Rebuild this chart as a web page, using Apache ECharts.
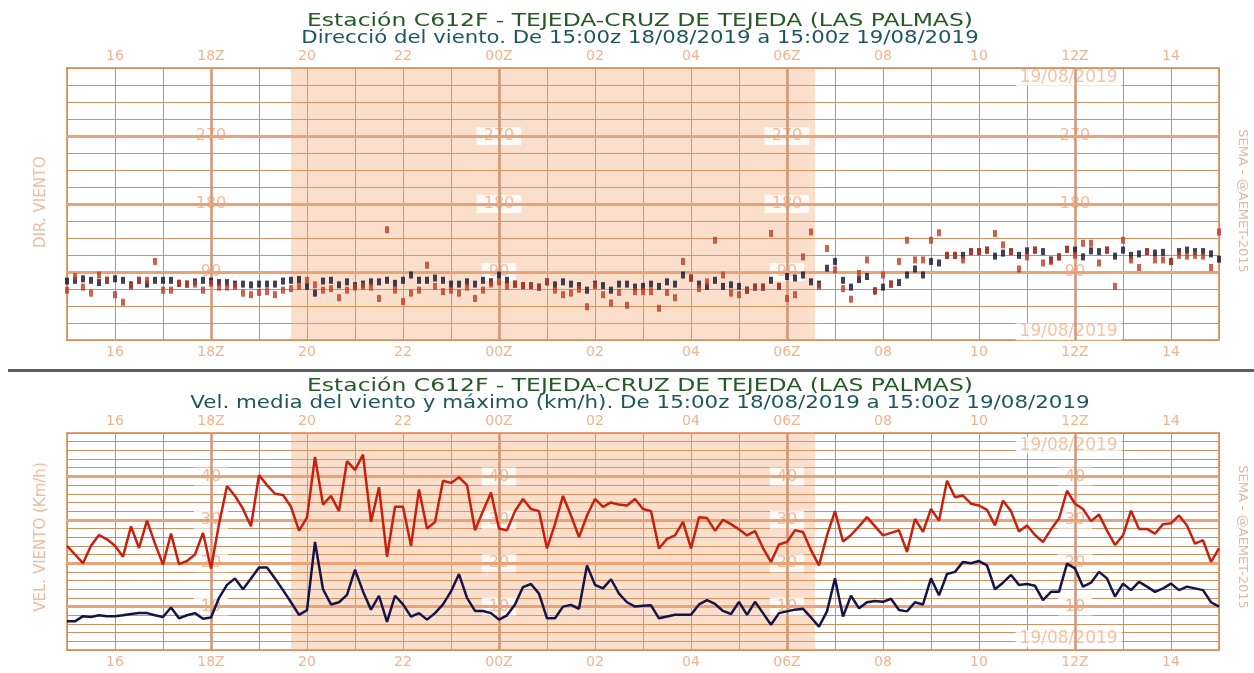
<!DOCTYPE html>
<html>
<head>
<meta charset="utf-8">
<script src="https://cdn.jsdelivr.net/npm/echarts@6/dist/echarts.min.js"></script>
<style>html,body{margin:0;padding:0;background:#fff}#c{width:1254px;height:673px}</style>
</head>
<body>
<div id="c"></div>
<script>
// ---- DATA ----
// tick labels for x axis, one per hour from 15:00z 18/08 to 15:00z 19/08
const tickLabels = ['', '16', '', '18Z', '', '20', '', '22', '', '00Z', '', '02', '', '04', '', '06Z', '', '08', '', '10', '', '12Z', '', '14', ''];
const stepMinutes = 10;
const nightStart = 280;   // 19:40z (minutes after 15:00z)
const nightEnd = 935;     // 06:35z
const labelCols = [180, 540, 900, 1260]; // 18Z, 00Z, 06Z, 12Z
const dirTicks = [90, 180, 270];
const speedTicks = [10, 20, 30, 40];
const dateText = '19/08/2019';

// wind direction (deg), 10-min: mean (black) and gust (red)
const dirMean = [78,79,81,79,76,79,81,79,73,79, 74,79,79,79,75,74,77,79,78,76, 76,74,74,73,74,74,74,78,79,80,
 71,62,78,79,73,77,72,74,77,77, 79,75,79,86,79,79,82,79,74,74, 77,74,79,77,86,79,74,72,72,70,
 77,73,77,74,72,66,74,72,66,74, 74,70,71,74,71,77,74,86,82,74, 71,79,71,73,71,66,70,70,79,71,
 84,82,86,77,74,95,104,79,70,80, 84,65,70,74,76,86,94,86,104,102, 112,112,112,117,117,119,111,115,117,112,
 118,119,117,106,110,120,119,110,118,117, 119,111,119,112,114,117,115,116,104,117, 119,117,117,114,107];
const dirGust = [66,84,70,62,86,79,60,50,71,79, 79,104,66,66,75,74,74,66,75,70, 70,71,62,60,63,64,60,66,68,71,
 79,73,66,68,56,66,70,71,70,55, 146,66,51,62,66,99,71,64,66,62, 70,55,66,74,77,71,74,72,72,70,
 77,66,60,62,67,44,72,60,49,63, 46,64,64,64,42,63,56,104,82,68, 77,132,86,62,60,66,70,70,141,71,
 55,60,110,143,71,121,93,68,54,88, 106,65,86,74,104,132,106,106,132,142, 112,112,106,117,117,119,141,126,117,94,
 110,119,102,104,110,120,112,128,128,102, 119,71,132,106,96,117,106,106,104,112, 111,112,111,96,143];

// wind speed (km/h), 10-min: mean (navy) and maximum (red)
const speedMean = [6.6,6.6,7.8,7.6,8,7.8,7.8,8,8.3,8.5, 8.5,8,7.6,9.8,7.3,8,8.5,7.2,7.5,12,
 15,16.5,14,16.5,19,19,16.5,13.8,11,8.1, 9.2,24.9,14,10.5,11,12.7,18.5,13.5,9.3,12.5,
 6.5,12.5,10.5,7.7,8.5,7,8.5,10.5,13.5,17.5, 12,9,9,8.5,7,8,10.5,14.5,15.2,13,
 7.3,7.3,10,10.4,9.5,19.5,15,14.2,16.3,13, 11,10,10.2,10.3,7.3,7.7,8.1,8.1,8.1,10.5,
 11.5,10.6,9,8.3,11.1,8.1,11.1,8.5,5.8,8.5, 8.9,9.3,9.5,7.5,5.4,8.9,16.5,7.7,12.5,9.6,
 11,11.3,11.1,11.8,9.2,8.9,11,10.5,16.5,12.6, 17.5,18,20.3,20,20.5,19.5,14,15.5,17.3,15,
 15.2,14.8,11.5,13.4,13.4,19.9,18.8,14.6,15.5,18, 16.5,12.3,15.3,13.8,15.7,14.6,13.4,14.2,15.3,13.8,
 14.6,14.2,13.8,11,10];
const speedMax = [24,22,20,24,26.5,25.5,24,21.5,28.5,23.5, 29.8,24.5,19.7,26.8,19.8,20.5,22,27,18.8,29,
 37.8,35.5,32.5,28.5,40.3,38,36,35.7,33,27.5, 30.5,44.5,33.5,35.5,32,43.5,41.5,45,29.5,37.5,
 21.5,33,33,24,37,28,29.5,39,38.5,39.8, 38,27.6,32,36.3,28,27.6,32,34.8,32.5,32,
 23.4,29,35.5,31,26,31,34.8,33,34,33.5, 33.3,34.8,32.5,32,23.4,25.6,26.4,29.5,23.4,30.6,
 30.4,27.5,30,29,27.8,26.4,27.4,23.5,20.3,24.3, 24.9,27.6,27.2,23,19.5,26.4,32,25,26.5,28.5,
 30.6,28.5,26.4,27,27.6,22.6,30.2,27.2,32.5,29.8, 39,35.2,35.6,33.7,33.3,32.3,28.7,34.4,32,27.3,
 28.7,26.5,24.9,27.8,30.3,36.7,33.7,32.5,29.7,31.2, 27.5,24.2,26.4,32.1,27.9,27.9,26.8,29,29.2,31,
 28.7,24.5,25.3,20.3,23.4];

// ---- CHART ----
const FONT = 'DejaVu Sans';
const LBL = '#ecaa84';
const TICK = '#f0b48f';
const THIN = '#cf9062';
const pair = arr => arr.map((v, i) => [i * stepMinutes, v]);

function xAxes(gridIndex) {
  const base = {
    type: 'value', gridIndex, min: 0, max: 1440, interval: 60,
    axisLine: { show: false }, axisTick: { show: false },
    axisLabel: { margin: 5, color: TICK, fontFamily: FONT, fontSize: 14, fontWeight: 'normal',
      formatter: v => tickLabels[Math.round(v / 60)] || '' }
  };
  return [
    Object.assign({}, base, { position: 'bottom', splitLine: { show: true, lineStyle: { color: THIN, width: 1 } } }),
    Object.assign({}, base, { position: 'top', splitLine: { show: false } })
  ];
}
function yAxis(gridIndex, max, interval) {
  return { type: 'value', gridIndex, min: 0, max, interval,
    axisLine: { show: false }, axisTick: { show: false }, axisLabel: { show: false },
    splitLine: { show: true, lineStyle: { color: THIN, width: 1 } } };
}
function decoSeries(xi, yi, ticks) {
  const ml = labelCols.map(x => ({ xAxis: x, lineStyle: { type: 'solid', color: '#d39570', width: 2.5 } }))
    .concat(ticks.map(y => ({ yAxis: y, lineStyle: { type: 'solid', color: '#eba274', width: 3 } })));
  return [
    { type: 'line', xAxisIndex: xi, yAxisIndex: yi, data: [], z: 1, silent: true,
      markArea: { silent: true, itemStyle: { color: 'rgba(240,160,95,0.32)' }, data: [[{ xAxis: nightStart }, { xAxis: nightEnd }]] } },
    { type: 'line', xAxisIndex: xi, yAxisIndex: yi, data: [], z: 2, silent: true,
      markLine: { silent: true, symbol: ['none', 'none'], label: { show: false }, lineStyle: { type: 'solid' }, data: ml } },
    { type: 'scatter', xAxisIndex: xi, yAxisIndex: yi, z: 4, silent: true, symbolSize: 0,
      data: labelCols.flatMap(x => ticks.map(y => [x, y])),
      label: { show: true, position: 'inside', formatter: p => String(p.value[1]), color: LBL, fontFamily: FONT,
        fontSize: 16, fontWeight: 'normal', backgroundColor: '#ffffff', padding: [1, 7] } }
  ];
}
function dateSeries(xi, yi, yTop, yBot) {
  return { type: 'scatter', xAxisIndex: xi, yAxisIndex: yi, z: 4, silent: true, symbolSize: 0,
    data: [[1252, yTop], [1252, yBot]],
    label: { show: true, position: 'inside', formatter: () => dateText, color: TICK, fontFamily: FONT,
      fontSize: 17, fontWeight: 'normal', backgroundColor: '#ffffff', padding: [0, 4] } };
}

const chart = echarts.init(document.getElementById('c'), null, { renderer: 'canvas' });
const txt = (t, x, y, size, color, rot, weight, sx) => ({ type: 'text', x, y, rotation: rot || 0, scaleX: sx || 1, silent: true,
  style: { text: t, fill: color, font: (weight || 'normal') + ' ' + size + 'px ' + FONT, textAlign: 'center', textVerticalAlign: 'middle' } });

chart.setOption({
  animation: false,
  backgroundColor: '#ffffff',
  grid: [
    { left: 67, top: 68, width: 1152, height: 272, show: true, borderColor: '#e6a070', borderWidth: 2, backgroundColor: 'transparent' },
    { left: 67, top: 433, width: 1152, height: 217, show: true, borderColor: '#e6a070', borderWidth: 2, backgroundColor: 'transparent' }
  ],
  xAxis: xAxes(0).concat(xAxes(1)),
  yAxis: [yAxis(0, 360, 22.5), yAxis(1, 50, 2)],
  graphic: [
    txt('Estación C612F - TEJEDA-CRUZ DE TEJEDA (LAS PALMAS)', 640, 22, 17, '#245a24', 0, 'normal', 1.38),
    txt('Direcció del viento. De 15:00z 18/08/2019 a 15:00z 19/08/2019', 640, 39, 17, '#1d5660', 0, 'normal', 1.25),
    txt('Estación C612F - TEJEDA-CRUZ DE TEJEDA (LAS PALMAS)', 640, 387, 17, '#245a24', 0, 'normal', 1.38),
    txt('Vel. media del viento y máximo (km/h). De 15:00z 18/08/2019 a 15:00z 19/08/2019', 640, 404, 17, '#1d5660', 0, 'normal', 1.26),
    txt('DIR. VIENTO', 41, 202, 15, '#f0bb9c', Math.PI / 2, 'normal'),
    txt('VEL. VIENTO (Km/h)', 41, 537, 15, '#f0bb9c', Math.PI / 2, 'normal'),
    txt('SEMA - @AEMET-2015', 1242, 201, 13, '#dcbcaa', -Math.PI / 2, 'normal'),
    txt('SEMA - @AEMET-2015', 1242, 537, 13, '#dcbcaa', -Math.PI / 2, 'normal'),
    { type: 'rect', shape: { x: 8, y: 369, width: 1246, height: 3 }, style: { fill: '#5e5e5e' }, silent: true }
  ],
  series: [].concat(
    decoSeries(0, 0, dirTicks),
    [dateSeries(0, 0, 347, 11)],
    [
      { name: 'Dir. media', type: 'scatter', xAxisIndex: 0, yAxisIndex: 0, z: 5, symbol: 'rect', symbolSize: [4, 7],
        itemStyle: { color: '#121230' }, data: pair(dirMean) },
      { name: 'Dir. racha', type: 'scatter', xAxisIndex: 0, yAxisIndex: 0, z: 6, symbol: 'rect', symbolSize: [4, 7],
        itemStyle: { color: '#c23a22' }, data: pair(dirGust) }
    ],
    decoSeries(2, 1, speedTicks),
    [dateSeries(2, 1, 47.2, 2.6)],
    [
      { name: 'Vel. máxima', type: 'line', xAxisIndex: 2, yAxisIndex: 1, z: 5, symbol: 'none',
        lineStyle: { color: '#c8200e', width: 2.5 }, data: pair(speedMax) },
      { name: 'Vel. media', type: 'line', xAxisIndex: 2, yAxisIndex: 1, z: 6, symbol: 'none',
        lineStyle: { color: '#14144a', width: 2.5 }, data: pair(speedMean) }
    ]
  )
});
</script>
</body>
</html>
